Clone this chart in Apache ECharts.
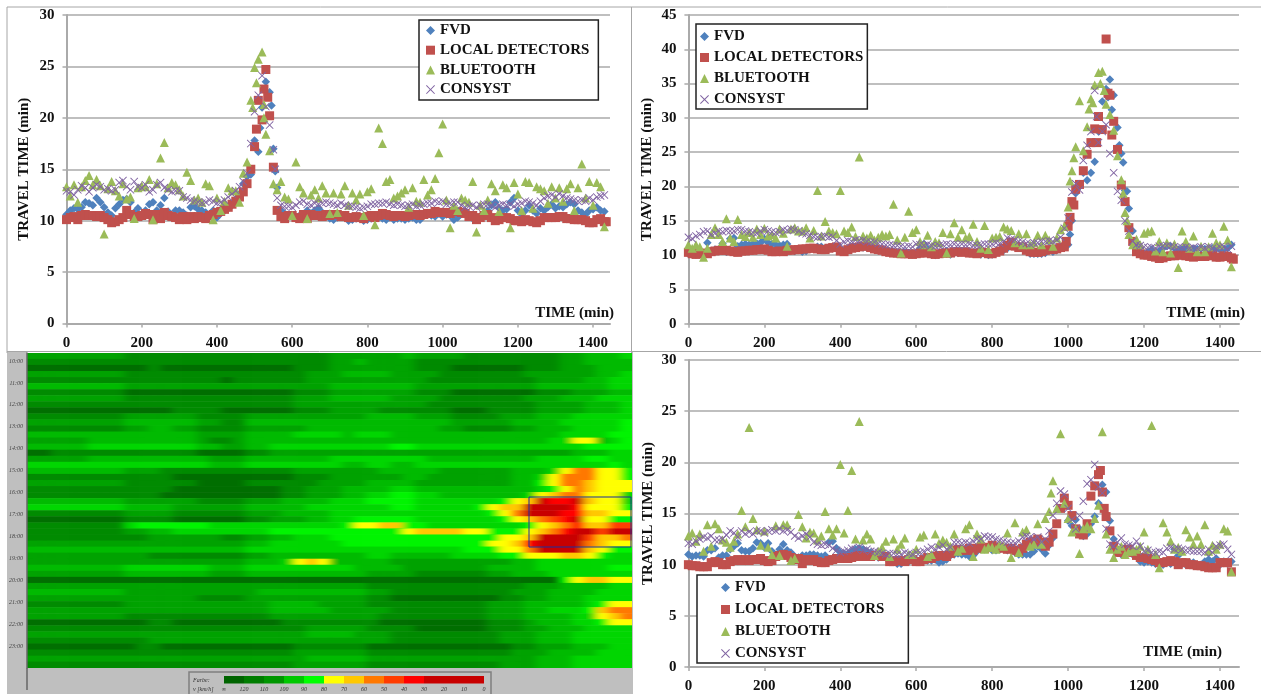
<!DOCTYPE html>
<html><head><meta charset="utf-8"><style>html,body{margin:0;padding:0;background:#fff}
#wrap{position:relative;width:1261px;height:694px;overflow:hidden}
#clip{position:absolute;left:27px;top:353px;width:605px;height:315px;overflow:hidden}
#h{position:absolute;filter:url(#hblur)}
#c{position:absolute;left:0;top:0;width:1261px;height:694px;filter:blur(0.55px)}</style>
<script src="https://cdn.jsdelivr.net/npm/echarts@6/dist/echarts.min.js"></script></head><body>
<svg width="0" height="0" style="position:absolute"><filter id="hblur" x="0" y="0" width="100%" height="100%"><feGaussianBlur stdDeviation="4 0.7"/></filter></svg>
<div id="wrap"><div id="clip"><div id="h"></div></div><div id="c"></div></div><script>
const seriesNames=['FVD','LOCAL DETECTORS','BLUETOOTH','CONSYST'];
const timeStep=10;
// panel A (top left)
const fvdA=[10.6,11,11.2,11.1,11.3,11.8,11.7,11.5,12.2,11.8,
11.3,10.8,10.5,11.2,11.6,12,12.1,11.8,10.8,11.2,
10.5,11,11.6,11.8,11,11.5,12.2,10.9,10.5,11,
11,10.8,10.5,11.3,11.4,11.1,11,10.8,10.5,11,
10.3,10.7,11,11.2,11.5,12,12.6,13.6,14.3,14.5,
17.8,16.7,21,23.5,22.5,17,13.2,11,10.7,10.4,
10.4,10.3,10.5,10.5,11,10.7,11,11.2,10.8,10.4,
10.2,10.1,10.3,10.4,10.3,10,10.1,10.2,10.4,10,
10.1,10.2,10.2,10.3,10.2,10.1,10.3,10.1,10.2,10.2,
10.1,10.2,10.3,10.1,10.1,10.5,10.6,10.5,10.4,10.7,
10.4,10.6,10.5,10.1,10.3,10.7,10.9,10.5,10.2,10.2,
10.4,10.7,11,11.5,11.8,11.2,11,11.1,11.8,12.2,
11,10.6,11,11.5,11,10.7,11.2,11,11.3,11.6,
11.2,11.4,11.3,11.6,11.8,11.6,11,10.8,10.6,11,
11.1,11.3,11,10.9];
const fvdAExtra=[[515,19],[545,21.2],[555,14.8]];
const localA=[10.1,10.3,10.4,10.1,10.5,10.6,10.5,10.5,10.4,10.5,
10.3,10.1,9.8,9.9,10.1,10.3,11,10.6,10.4,10.4,
10.5,10.7,10.6,10.1,10.6,10.2,10.8,10.5,10.4,10.3,
10.1,10.4,10.1,10.4,10.2,10.4,10.3,10.2,10.5,10.6,
10.8,10.9,11.1,11.3,11.6,11.9,12.3,12.8,13.6,15,
17.2,21.7,19.8,24.7,20.2,15.2,11,10.4,10.2,10.5,
10.5,10.3,10.2,10.6,10.2,10.6,10.5,10.5,10.4,10.6,
10.5,10.6,10.6,10.4,10.5,10.3,10.3,10.4,10.3,10.2,
10.4,10.5,10.3,10.5,10.7,10.6,10.5,10.4,10.5,10.5,
10.4,10.5,10.6,10.6,10.5,10.6,10.7,10.7,10.9,10.8,
10.8,10.8,10.7,10.9,10.9,10.8,10.7,10.4,10.5,10.1,
10.3,10.5,10.6,10.3,10,10.1,10.3,10.3,10.2,10,
10,9.9,10.1,10,9.9,9.8,10,10.3,10.3,10.3,
10.3,10.4,10.4,10.2,10.2,10.1,10.1,10.1,10,9.8,
9.8,10.1,10.2,9.9];
const localAExtra=[[505,18.9],[525,22.8],[535,22],[1435,9.9]];
const blueA=[13.3,12.4,13.5,11.8,13.3,13.9,14.4,13.5,14,13.4,
8.7,13.1,13.8,12.9,12.4,13.6,12.1,12.3,10.2,13.2,
13.4,13.3,14,10.1,13.6,16.1,17.6,13.2,13.7,13.5,
13,12.4,14.7,13.9,12,12.2,11.8,13.6,13.4,10.1,
12.2,11,11.9,13.2,12.9,12.9,11.8,14.6,15.7,21.7,
24.9,25.7,26.4,18.4,16.8,13.6,13,13.8,12.3,12.1,
10.5,15.7,13.3,12.7,10.2,12.5,13,12.2,13.4,12.7,
10.7,12.7,10.8,12.6,13.4,11.5,12.7,12,12.6,10.5,
12.8,13.1,9.6,19,17.5,13.8,14,12.2,12.4,12.7,
13,11.3,13.2,11.9,11.8,14,12.5,13,14.1,16.6,
19.4,12,9.3,11.5,11,12.2,12,11.8,13.8,8.9,
11.5,11,12,13.6,12.9,10.9,13.5,13.2,9.3,13.7,
12.6,11,13.8,13.7,11.2,13.3,13.1,12.9,11.7,13.3,
12.2,13.2,11.9,13.1,13.6,11,13.2,15.5,12.2,13.8,
11.5,13.7,13.3,9.4];
const blueAExtra=[[495,21],[505,23.4],[525,21.3],[525,20]];
const consystA=[12.9,12.8,12.5,13,13.4,13.2,12.8,13.2,13.5,13.3,
13,13.1,12.9,13,13.7,13.9,13.3,13,13.8,13.3,
13.2,13.5,12.8,13,13.5,13.7,13.2,13,12.8,12.9,
12.9,12.3,12.2,12,11.9,11.8,11.7,11.8,12,11.9,
11.7,11.8,12,12.3,12.6,12.9,13.3,13.8,14.6,17.5,
20.6,22.2,24.1,21.1,19.3,16.9,12.2,11.5,11.4,11.4,
11.3,11.5,11.8,11.9,11.6,11.5,11.7,11.6,11.7,11.8,
11.7,11.6,11.5,11.7,11.5,11.4,11.4,11.3,11.2,11.3,
11.4,11.6,11.6,11.7,11.7,11.8,11.6,11.5,11.6,11.5,
11.4,11.5,11.6,11.4,11.5,11.6,11.7,11.7,11.9,11.8,
11.9,11.6,11.7,11.8,11.8,11.5,11.3,11.4,11.5,11.3,
11.5,11.6,11.6,11.5,11.3,11.5,11.6,11.5,11.6,11.4,
11.6,11.7,11.9,11.8,11.7,11.5,11.9,12.2,12.4,12.5,
12.3,12.6,12.4,12.2,12.1,12,11.9,12,11.9,12.2,
12,12.3,12.4,12.5];
const consystAExtra=[[555,15]];
// panel B (top right)
const fvdB=[10.2,10.3,10.1,10.2,10.3,11.8,10.6,10.8,10.8,11.7,
10.5,12.4,12.5,11.3,11.5,11.6,11.5,11.6,11.7,11.8,
12.4,11.8,11.6,11.5,11.4,11.5,11.6,10.8,10.6,10.9,
10.5,10.6,10.9,11,11.2,11.2,11,11,11,11.1,
10.9,10.6,10.9,11.1,11.2,11.2,11.1,11.1,11,10.9,
10.7,10.8,10.5,10.4,10.5,10.2,10.3,10.4,10.3,10.2,
10.3,11,11.6,10.9,10.1,10,10.1,10.5,10.6,10.1,
10.3,10.3,10.5,10.4,10.3,10.2,10.2,10.1,10.2,10,
10.1,10.4,10.6,10.7,11,11.6,11.3,11.4,11.2,10.7,
10.2,10.2,10.2,10.2,10.3,10.7,10.5,10.7,11,11.3,
11.5,15,19,20,22,20.9,22,23.6,28,32.4,
34.2,35.6,33.3,28.6,24.8,19.4,16.8,13.5,11.4,10.5,
10.2,10.4,10.8,10.5,10.6,11,11.4,11.3,11,10.8,
10.9,11,10.8,10.9,10.9,11,10.9,10.8,11,10.9,
10.8,10.9,11,11.5];
const fvdBExtra=[[1005,13],[1105,33],[1115,31.2],[1135,26],[1145,23.5],[1155,19.3]];
const localB=[10.4,10.2,10.1,10.2,10.3,10.2,10.5,10.6,10.7,10.7,
10.7,10.6,10.5,10.4,10.6,10.6,10.7,10.7,10.8,10.8,
10.9,10.7,10.5,10.5,10.6,10.5,10.7,10.7,10.8,10.8,
10.9,10.9,11,11,10.9,10.8,10.8,11,11.1,11.2,
10.6,10.5,10.8,11,11.1,11.2,11.3,11.3,11.1,10.9,
10.8,10.7,10.5,10.4,10.3,10.3,10.2,10.2,10.2,10.1,
10.2,10.3,10.3,10.4,10.2,10.1,10.2,10.3,10.3,10.3,
10.5,10.5,10.4,10.5,10.3,10.3,10.2,10.4,10.4,10.2,
10.2,10.4,10.6,11,11.4,11.9,11.3,11.1,11.2,10.7,
10.5,10.4,10.4,10.5,10.7,10.8,10.8,10.9,11.1,11.2,
14.2,17.8,19.6,20.3,22.3,24.7,26.4,28.4,30.2,28.3,
41.5,33.3,29.5,25.4,20.2,17.8,14,12,10.5,10.2,
10,10,9.8,9.7,9.5,9.6,9.8,9.9,9.9,10,
10,9.9,9.8,9.7,9.8,9.8,9.8,9.9,10,9.7,
9.7,9.9,9.8,9.6];
const localBExtra=[[995,12],[1005,15.5],[1015,17.3],[1075,26.4],[1105,33.6],[1115,27.5],[1435,9.4]];
const blueB=[11.5,11,11.5,11.2,9.7,11,13,14,13,12,
15.3,12.5,12,15.2,13,12.7,13.3,12.6,13.8,13,
13.9,12.8,13,12.5,13.8,13.2,11.3,13.8,14,13.5,
13.5,14,12.5,13.6,19.4,12.8,14.9,13.5,13.3,13.1,
19.4,13.5,13.3,14.1,12.7,24.3,12.8,12.5,12.9,12.2,
12.6,13,12.8,13,17.4,12.2,10.3,12.6,16.4,13.3,
13.7,12,11.5,12.9,11.2,12,11.8,13.3,10.3,13.1,
14.7,12.6,13.7,12.5,12.7,14.5,12,11,14.3,10.8,
12.5,12.6,12.7,14.1,13.8,13.6,11.8,13.1,11.5,13.1,
11.5,11.8,12.9,11.5,12.9,12.2,11.3,12.5,13.7,14.2,
17,22.3,25.8,32.5,25.2,28.7,32.8,34.8,36.6,36.8,
32,30.5,28.2,24.5,21,16.2,13,11.5,12.3,11.5,
13.2,13.4,13.5,10.6,12,10.5,11.8,10.3,11.6,8.2,
13.5,12,11,12.8,10.5,11.3,10.5,11.2,13.2,11.8,
11.5,14.2,12.2,8.3];
const blueBExtra=[[1005,20.8],[1015,24.2],[1055,31.3],[1065,32.2],[1085,35],[1095,34],[1145,19],[1155,15]];
const consystB=[12.6,12.4,12.8,13,13.4,13.5,13,13.2,13.5,13.4,
13.6,13.5,13.5,13.7,13.7,13.5,13.4,13.3,13.2,13.5,
13.7,13.5,13.4,13.3,13.4,13.7,13.6,13.8,13.7,13.5,
13.2,13.1,12.9,12.7,12.6,12.7,12.8,12.6,12.7,12.1,
11.6,11.9,12.1,12,12.2,12.1,12.2,12,11.9,11.9,
11.7,11.6,11.5,11.5,11.4,11.4,11.3,11.2,11.3,11.2,
11.6,11.5,11.4,11.6,11.4,11.3,11.4,11.5,11.6,11.5,
11.6,11.5,11.6,11.5,11.6,11.4,11.4,11.5,11.6,11.6,
11.6,11.8,11.7,12,12.5,12.3,12.2,12,11.9,11.7,
11.6,11.8,11.8,12,12,12.1,12,12.2,12.6,13.9,
15.4,19.2,20.4,19.5,23.8,26,28,34,26.4,28,
29,24.8,22,19.3,18,15,13.5,12,11.5,11.4,
11.2,11.1,11.1,11,11.3,11.3,11.4,11.3,11.2,11.1,
11.1,11.2,11,11.1,11,11.2,11,11.2,11,10.9,
11.2,11.2,10.9,11.3];
const consystBExtra=[[1075,30.2]];
// panel C (bottom right)
const fvdC=[11,10.8,10.9,10.9,10.8,11.4,11.4,11.6,10.7,10.9,
10.9,11.5,11.8,12.1,11.4,11.3,11.3,11.6,12.2,12.1,
11.7,12.1,11.3,10.9,11.5,12,11.4,11.2,10.8,10.7,
10.9,10.9,11,11,10.9,10.8,10.9,12.2,12.3,11.6,
11.2,11.1,11.1,11.3,11.5,11.6,11.5,11.3,11.2,10.9,
10.7,10.8,10.7,10.5,10.4,10.1,10.1,10.3,10.3,10.6,
10.5,10.4,10.6,10.4,10.4,10.5,10.2,10.3,10.5,10.9,
11,11.1,11,11,10.8,10.9,11.3,11.5,11.5,11.7,
11.4,11.4,11.5,11.6,11.4,11.5,11.2,11,11,11,
11,11.3,11.8,11.5,11.1,11.9,12.6,14,15.5,16.5,
14.3,13.8,14.4,13.5,12.8,13,14,14.7,16,17.8,
17.1,14.3,12.5,11.5,11,11.5,11.3,11,10.8,10.3,
10.2,10.3,10.2,10.1,10.1,10,10.2,10.1,11.5,10.9,
10.1,10,10.2,10.2,10,10,10.3,10.5,10.3,10.6,
10,10.3,10.1,10.3];
const fvdCExtra=[];
const localC=[10,9.9,9.9,9.8,9.8,9.8,10.2,10.3,10.2,10,
10,10.3,10.4,10.5,10.4,10.5,10.4,10.5,10.5,10.6,
10.4,10.3,10.4,10.8,10.9,11,10.9,10.7,10.5,10.6,
10.1,10.5,10.4,10.5,10.3,10.2,10.2,10.4,10.5,10.6,
10.6,10.7,10.6,10.7,10.8,10.9,10.8,10.8,10.8,10.9,
10.9,10.8,10.8,10.3,10.3,10.4,10.4,10.3,10.5,10.5,
10.3,10.3,10.5,10.7,10.6,10.8,10.9,10.9,10.8,11.1,
11.4,11.5,11.4,11.4,11.6,11.4,11.6,11.7,11.6,11.7,
11.9,11.7,11.7,11.6,11.5,11.6,11.4,11.3,11.6,12,
12.2,12.3,12.5,12.2,11.8,12.2,13,14,15.5,16.5,
15.8,14.8,13.5,13,12.9,14,16.7,17.7,18.8,17.1,
14.7,13.3,11.8,11.2,11.2,11.5,11.5,11.2,10.9,10.7,
10.7,10.6,10.5,10.4,10.2,10.2,10.3,10.4,10.3,10,
10.2,10.2,10,10,9.9,9.9,9.8,9.7,9.7,9.7,
10.2,10.2,10.2,9.3];
const localCExtra=[[1085,19.2],[1095,15.5]];
const blueC=[12.8,13.1,12.3,13,11.3,13.9,11.8,14,13.5,12.4,
12.2,11.7,12.3,13,15.3,13.7,23.4,14.5,13.4,11.9,
13.3,11.7,11,13.8,10.9,13.9,13.9,10.4,10.6,14.9,
13.7,12.6,13.2,13.1,12.4,12.8,15.2,13.5,12.9,13.5,
19.8,13.1,15.3,19.2,12.5,24,12.4,13,12.5,10.9,
11.3,11.7,12.3,10.8,12.5,11.5,12,12.6,11,11,
11.5,12.7,12.9,10.8,11,13,12.1,12.4,12.2,11.8,
13,11.3,11.6,13.5,13.9,10.8,13,12.5,11.5,11.7,
11.7,11.5,12,11.8,13.1,10.7,14.1,11.2,13.2,13.4,
11.8,12,14,12,14.5,15.2,18.2,15.5,22.8,16,
14.5,13.2,13.5,11.1,13.5,13.8,13.5,14.5,15.8,23,
13,11.5,10.7,11.5,11.8,11,11.3,11.3,11.5,11.8,
13.2,11.5,23.6,11,9.7,14.1,13.2,12.3,11.5,11.7,
11.3,13.4,12.7,12,12.8,12,13.9,11.3,11.9,11.5,
12,13.5,13.3,9.3];
const blueCExtra=[[955,17]];
const consystC=[12.1,12,12.3,12.5,12.7,12.6,12.8,12.4,12.4,12.5,
12.9,13.3,13.1,12.7,13.3,13,13.2,13,13.3,13.3,
13.1,13.3,13.4,13.3,13.5,13.3,13.4,13.2,12.8,12.6,
12.8,13,12.7,12.2,12,11.9,12,11.9,11.6,11.4,
11.2,11.3,11.4,11.6,11.5,11.7,11.4,11.5,11.3,11.3,
11.2,11.1,11,11.1,11.1,11,11,11.2,11.1,11,
11.2,11.2,11.3,11.5,11.7,11.5,11.7,11.9,11.5,11.7,
12.2,12.2,12.1,12.2,12.1,12.3,12.5,12.5,12.8,12.7,
12.7,12.5,12.4,12.3,12.2,12.1,12.1,12.3,12.7,12.8,
12.7,12.5,12.7,12.2,12.5,13.3,14.8,16,17.2,16.9,
15.5,14.4,13.5,14.8,16.2,17.9,18.3,19.8,17.6,17,
13.5,12,11.8,12.2,12.6,12,11.9,11.8,12.3,11.8,
11.3,11.4,11.2,11.2,11.3,11.2,11.6,11.7,11.5,11.6,
11.5,11.4,11.4,11.3,11.3,11.3,11.2,11.5,11.2,11.8,
11.9,12,11.5,11];
const consystCExtra=[];
// speed contour: one string per time row, one band code per position along the road
const speedRows=[
"2222222211 1111111111 1111122222 2322221111 1111223334",
"1111111111 1111111111 1111122322 2211111111 1111223333",
"0000000000 1000000000 0011122222 2211100000 0111222333",
"2222222211 1111111111 1112223333 2222111111 1222222334",
"1111111111 1111110111 1112222222 2221111111 1122223344",
"3333333322 2222222222 2222233333 3322222222 2233333344",
"1111111100 0000000000 0011122222 2211100000 0011122233",
"2222222211 1111111111 1122233333 2222111111 1222333444",
"1111111111 1111111111 1122222222 2221111111 1122223334",
"0000000000 0011110000 0011122221 1111100011 1122223334",
"1111111122 2222111122 2222222233 3322211112 2233344444",
"2222222233 3333221133 3333333333 3333322222 3333444445",
"1111111122 3322111122 2223333333 3333221111 2233344445",
"3333333333 3333222233 3344443444 3333333333 3333444455",
"2222233333 3333211233 3333333333 3333333333 3334466345",
"3333344444 4444332233 4444444444 5544444444 4444445555",
"0011111111 1111000011 2222222222 2222222222 2222233344",
"2222233333 3333322233 3333344444 4443333333 3344445544",
"4444444444 4444433344 4444443344 3344444444 4444444454",
"3333333322 2111111111 1122222223 3333222222 3334688665",
"1111111111 1100000000 0011122222 2332222222 3346888665",
"2222222211 1111000011 1111222233 3322222222 3356887666",
"1111111111 1100000000 0112223333 4433333333 3345687666",
"1111111111 1000000000 0112223344 5544333333 3467886664",
"3333333322 2222111122 2333344455 5544444445 67baab7664",
"4444444433 3322222233 3334444444 5544444567 7bbbba6665",
"1111111122 2211111122 2333344444 4444444456 8bbbaa7766",
"0000000011 1100000011 2223344555 5544444445 6789ab6655",
"1111111145 5555544444 4444445667 7554444444 45678a7799",
"1111111122 3344444444 5555555555 5677776655 5678abb9bb",
"1111111111 2222221122 3344455555 5555555556 67bbbb9778",
"2222222222 2222222233 4444445555 5555555566 7abbbb8766",
"3333333333 3333333344 4444444444 4444445556 68bbbb7655",
"2222222222 1111111122 3333333344 3333344445 5666776544",
"2222222222 2222222233 3467633333 2222222222 3344444444",
"3333333344 4444433344 4444444333 3222222233 3344444455",
"2222222233 3333322233 3333333322 2211111122 3334444444",
"0000000000 0000000000 0000000000 0000000000 0000567766",
"2222222222 2222222222 2222222211 1111111111 1222333344",
"3333333322 2222222223 3333333322 1111111111 2223333444",
"2222222222 2222111122 2222222211 0000000001 1223334444",
"1111111122 2222222222 3333222211 1111111122 2333334566",
"2222222222 2222222222 3333322222 1111111122 2334445788",
"2222222211 1111111111 2222222221 1111111122 2333344678",
"0000000000 1100000000 0111111110 0000000011 1233344566",
"1111111111 1111111111 1112222211 1100000011 1223334444",
"2222222222 2222222222 2223333222 1111111112 2233344444",
"1111111111 2222222222 2222222222 1111111112 2233344444",
"0000000001 1000000000 0011111100 0000000000 1122233344",
"1111111111 1111111111 1122222211 1111111111 2223333444",
"2222222222 2222222222 2223333322 2222222222 2233344444",
"1111111111 1111111111 1122222211 1111111112 2233344444"];
const bandColors=['#006e00','#008a00','#00a200','#00ba00','#00d600','#00f400','#ffff00','#ffc800','#ff7800','#ff3c00','#ff0000','#c80000'];
const hourTicks=[10,11,12,13,14,15,16,17,18,19,20,21,22,23];
const scaleColors=['#006400','#007d00','#009600','#00c800','#00ff00','#ffff00','#ffc800','#ff7800','#ff3c00','#ff0000','#c80000','#c80000','#c80000'];
const scaleLabels=['∞','120','110','100','90','80','70','60','50','40','30','20','10','0'];
const xTicksMax=[1445,1450,1450];
const yMaxes=[30,45,30];

const serif='"Liberation Serif","Times New Roman",serif';
const colors=['#4F81BD','#C0504D','#9BBB59','#8064A2'];
const symbols=['diamond','rect','triangle','path://M0.8 0L5 4.2L9.2 0L10 0.8L5.8 5L10 9.2L9.2 10L5 5.8L0.8 10L0 9.2L4.2 5L0 0.8Z'];
const sizes=[8.5,9,9,8];
const panels=[
 {rect:[66.5,15,543.5,308.5],data:[fvdA,localA,blueA,consystA],extra:[fvdAExtra,localAExtra,blueAExtra,consystAExtra],nameGap:35,xNameGap:4,xNamePad:3,
  legend:{left:419,top:20,pad:[3,9,3,7],gap:4.7}},
 {rect:[688.4,15,550.6,308.7],data:[fvdB,localB,blueB,consystB],extra:[fvdBExtra,localBExtra,blueBExtra,consystBExtra],nameGap:34,xNameGap:6,xNamePad:3,
  legend:{left:696,top:24,pad:[5,4,2,4],gap:6}},
 {rect:[688.4,360,550.6,308],data:[fvdC,localC,blueC,consystC],extra:[fvdCExtra,localCExtra,blueCExtra,consystCExtra],nameGap:33,xNameGap:-17,xNamePad:7,
  legend:{left:697,top:575,pad:[5,24,2,24],gap:7}}
];
const grid=[],xAxis=[],yAxis=[],series=[],legend=[];
panels.forEach((p,i)=>{
 grid.push({left:p.rect[0],top:p.rect[1],width:p.rect[2],height:p.rect[3],containLabel:false});
 xAxis.push({type:'value',gridIndex:i,min:0,max:xTicksMax[i],interval:200,splitLine:{show:false},
  axisLine:{onZero:false,lineStyle:{color:'#aaa',width:2}},axisTick:{length:4,lineStyle:{color:'#aaa',width:1.5}},
  axisLabel:{color:'#111',fontFamily:serif,fontWeight:'bold',fontSize:15,margin:12,showMaxLabel:false,formatter:v=>String(v)},
  name:'TIME (min)',nameLocation:'end',nameGap:p.xNameGap,
  nameTextStyle:{color:'#111',fontFamily:serif,fontWeight:'bold',fontSize:15,align:'right',verticalAlign:'bottom',padding:[0,0,p.xNamePad,0]}});
 yAxis.push({type:'value',gridIndex:i,min:0,max:yMaxes[i],interval:5,
  splitLine:{lineStyle:{color:'#aaa',width:1.6}},
  axisLine:{show:true,lineStyle:{color:'#aaa',width:2}},axisTick:{show:true,length:4,lineStyle:{color:'#aaa',width:1.5}},
  axisLabel:{color:'#111',fontFamily:serif,fontWeight:'bold',fontSize:15,margin:12},
  name:'TRAVEL TIME (min)',nameLocation:'middle',nameGap:p.nameGap,nameRotate:90,
  nameTextStyle:{color:'#111',fontFamily:serif,fontWeight:'bold',fontSize:15}});
 seriesNames.forEach((n,k)=>{
  const pts=p.data[k].map((v,j)=>[j*timeStep,v]).concat(p.extra[k]);
  series.push({type:'scatter',name:n,xAxisIndex:i,yAxisIndex:i,data:pts,symbol:symbols[k],symbolSize:sizes[k],
   itemStyle:{color:colors[k],opacity:1},z:2+k,silent:true});
 });
 legend.push({orient:'vertical',left:p.legend.left,top:p.legend.top,data:seriesNames,selectedMode:false,
  backgroundColor:'#fff',borderColor:'#222',borderWidth:1.5,padding:p.legend.pad,itemGap:p.legend.gap,itemWidth:9,itemHeight:9,
  align:'left',textStyle:{color:'#111',fontFamily:serif,fontWeight:'bold',fontSize:15,lineHeight:14}});
});
// hour labels of the contour panel
grid.push({left:27,top:353,width:605,height:315});
xAxis.push({type:'value',gridIndex:3,min:0,max:1,show:false});
yAxis.push({type:'value',gridIndex:3,min:9.635,max:24,inverse:true,position:'left',splitLine:{show:false},
 axisLine:{show:true,onZero:false,lineStyle:{color:'#666',width:1.5}},axisTick:{show:false},
 axisLabel:{customValues:hourTicks,formatter:v=>v+':00',color:'#444',fontSize:6,fontStyle:'italic',fontFamily:serif,margin:4}});

const G=[];
const line=(x1,y1,x2,y2,c,w)=>({type:'line',z:50,shape:{x1,y1,x2,y2},style:{stroke:c,lineWidth:w}});
G.push({type:'rect',z:-5,shape:{x:7,y:351,width:20,height:343},style:{fill:'#bfbfbf'}});
G.push({type:'rect',z:-5,shape:{x:27,y:668,width:606,height:26},style:{fill:'#bfbfbf'}});
G.push({type:'rect',z:-5,shape:{x:632,y:351,width:1,height:317},style:{fill:'#bfbfbf'}});
G.push(line(7,7,1261,7,'#a6a6a6',1),line(7,7,7,353,'#a6a6a6',1),line(631.5,7,631.5,353,'#a6a6a6',1),line(632,351.5,1261,351.5,'#a6a6a6',1),line(7,351.5,632,351.5,'#a6a6a6',1),line(27,668,27,690,'#666',1.5));
G.push({type:'rect',z:60,shape:{x:529,y:497,width:102,height:50},style:{fill:'none',stroke:'#1a2fa0',lineWidth:1}});
G.push({type:'rect',z:10,shape:{x:189,y:672,width:302,height:24},style:{fill:'#bfbfbf',stroke:'#808080',lineWidth:1.5}});
scaleColors.forEach((c,i)=>G.push({type:'rect',z:11,shape:{x:224+i*20,y:676,width:20,height:7.5},style:{fill:c}}));
scaleLabels.forEach((s,i)=>G.push({type:'text',z:11,style:{x:224+i*20,y:689,text:s,fill:'#333',font:'italic 6px '+serif,align:'center',verticalAlign:'middle'}}));
G.push({type:'text',z:11,style:{x:193,y:680,text:'Farbe:',fill:'#333',font:'italic 6px '+serif,verticalAlign:'middle'}});
G.push({type:'text',z:11,style:{x:193,y:689,text:'v [km/h]',fill:'#333',font:'italic 6px '+serif,verticalAlign:'middle'}});

const chart=echarts.init(document.getElementById('c'),null,{renderer:'canvas'});
chart.setOption({animation:false,backgroundColor:'transparent',grid,xAxis,yAxis,series,legend,graphic:{elements:G}});

// contour heatmap, drawn underneath; edges are repeated past the clip so the smoothing does not fade them
const padCols=3,padRows=1;
const clean=speedRows.map(r=>r.replace(/ /g,''));
const colW=605/clean[0].length,rowH=315/clean.length;
const wide=clean.map(r=>r[0].repeat(padCols)+r+r[r.length-1].repeat(padCols));
const full=[wide[0],...wide,wide[wide.length-1]];
const hEl=document.getElementById('h');
hEl.style.left=(-padCols*colW)+'px';hEl.style.top=(-padRows*rowH)+'px';
hEl.style.width=(605+2*padCols*colW)+'px';hEl.style.height=(315+2*padRows*rowH)+'px';
const cols=[],rows=[],cells=[];
full.forEach((r,y)=>{rows.push('r'+y);[...r].forEach((c,x)=>cells.push([x,y,parseInt(c,16)]));});
for(let x=0;x<full[0].length;x++)cols.push('c'+x);
const heat=echarts.init(hEl,null,{renderer:'canvas'});
heat.setOption({animation:false,grid:{left:0,right:0,top:0,bottom:0},
 xAxis:{type:'category',data:cols,show:false},yAxis:{type:'category',data:rows,inverse:true,show:false},
 visualMap:{show:false,type:'piecewise',dimension:2,pieces:bandColors.map((c,i)=>({value:i,color:c}))},
 series:[{type:'heatmap',data:cells,silent:true,progressive:0}]});
</script></body></html>
